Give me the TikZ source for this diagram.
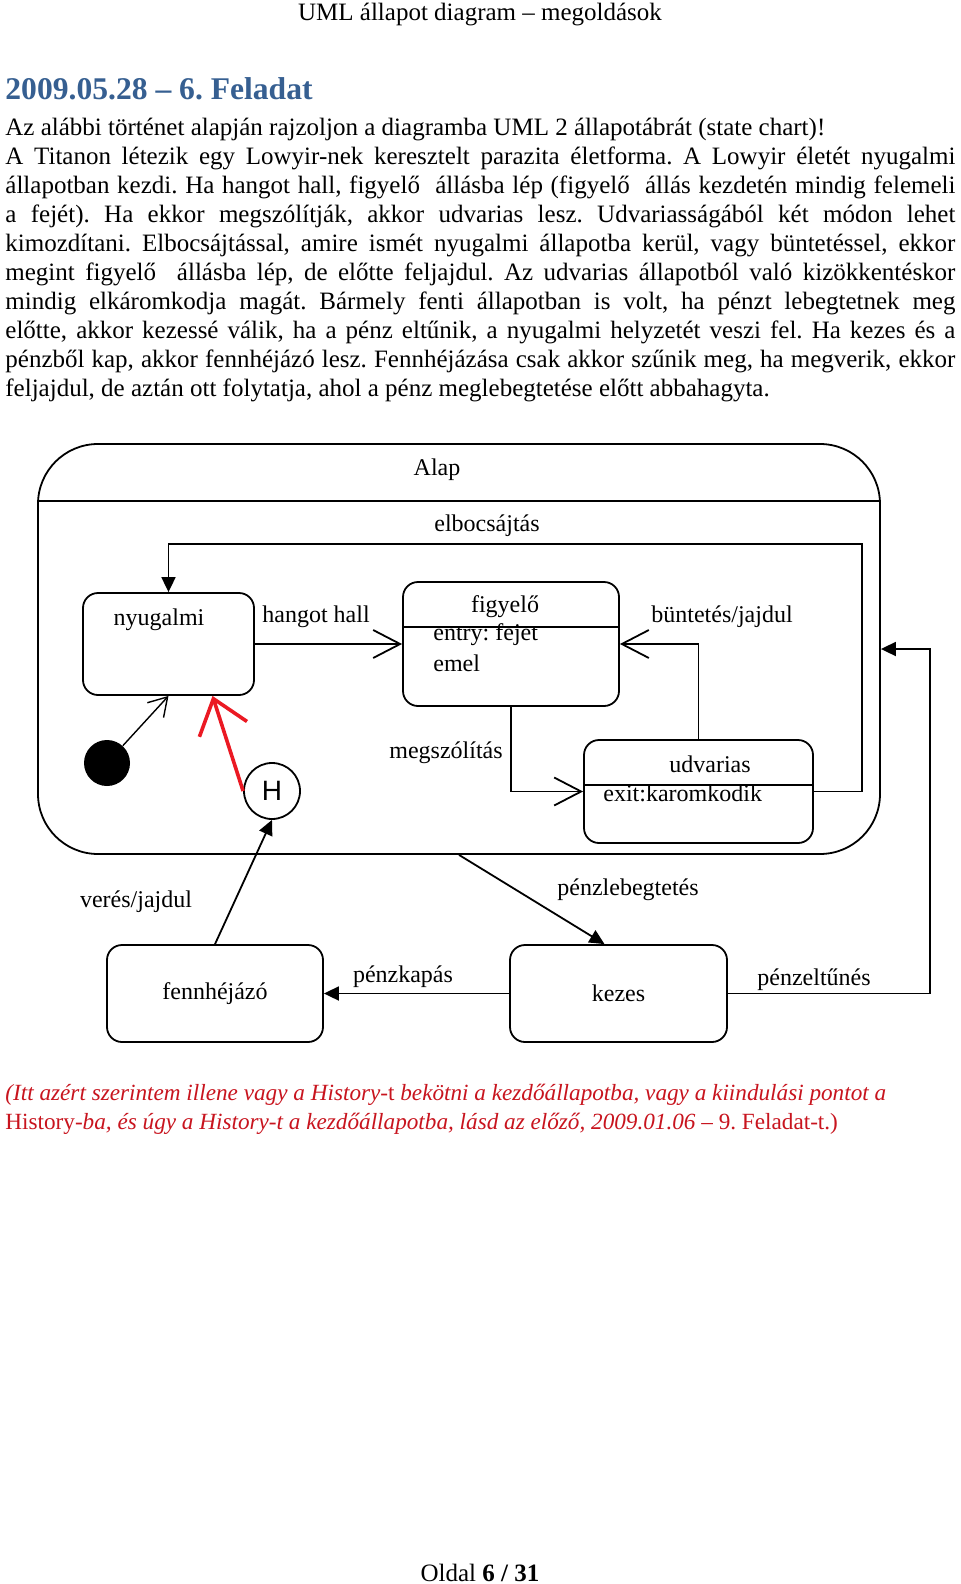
\documentclass[tikz,border=0pt]{standalone}
\usepackage{fontspec}
\setmainfont{Liberation Serif}
\newfontfamily\sansH{Liberation Sans}
\usepackage{xcolor}
\usepackage{tikz}
\usetikzlibrary{arrows.meta}
\usetikzlibrary{calc}
\definecolor{fejkek}{RGB}{54,95,145}
\definecolor{megjpiros}{RGB}{200,20,30}
\definecolor{kezipiros}{RGB}{235,25,35}
\newcommand{\mainsize}{\fontsize{12.5pt}{14.5pt}\selectfont}
\newcommand{\notesize}{\fontsize{11.6pt}{14.5pt}\selectfont}
\newcommand{\headsize}{\fontsize{15.8pt}{18pt}\selectfont\bfseries}
\tikzstyle{state} = [draw, rounded corners=7.5pt, line width=0.9pt, inner sep=0pt]
\tikzstyle{cimke} = [inner sep=0pt, font=\fontsize{12pt}{14pt}\selectfont]
\tikzstyle{arrow} = [-{Triangle[length=7.5pt, width=7pt]}, line width=0.9pt]
\tikzstyle{openarrow} = [-{Straight Barb[length=13.5pt, width=14pt]}, line width=0.9pt]
\tikzstyle{smallopen} = [-{Straight Barb[length=9pt, width=11pt]}, line width=0.7pt]
\tikzstyle{redarrow} = [-{Straight Barb[length=16pt, width=25pt]}, line width=1.8pt, draw=kezipiros]
\newcommand{\sepline}[2]{\draw[line width=0.9pt] (#1.west |- #2) -- (#1.east |- #2)}
\frenchspacing

\begin{document}
\begin{tikzpicture}[x=0.5pt, y=-0.5pt]
	\fill[white] (0,0) rectangle (960,1584);
	\useasboundingbox (0,0) rectangle (960,1584);
	
	% oldal szovege
	\node[anchor=base, font=\mainsize] (fejlec) at (480,21) {UML állapot diagram – megoldások};
	\node[anchor=base west, font=\headsize, text=fejkek, inner sep=0pt] (cim) at (5,99) {2009.05.28 – 6. Feladat};
	\node[anchor=north west, text width=475pt, align=justify, inner sep=0pt, font=\mainsize] (feladat) at (5,118) {%
		Az alábbi történet alapján rajzoljon a diagramba UML 2 állapotábrát (state chart)!\\
		A Titanon létezik egy Lowyir-nek keresztelt parazita életforma. A Lowyir életét nyugalmi\linebreak
		állapotban kezdi. Ha hangot hall, figyelő~ állásba lép (figyelő~ állás kezdetén mindig felemeli\linebreak
		a fejét). Ha ekkor megszólítják, akkor udvarias lesz. Udvariasságából két módon lehet\linebreak
		kimozdítani. Elbocsájtással, amire ismét nyugalmi állapotba kerül, vagy büntetéssel, ekkor\linebreak
		megint figyelő~ állásba lép, de előtte feljajdul. Az udvarias állapotból való kizökkentéskor\linebreak
		mindig elkáromkodja magát. Bármely fenti állapotban is volt, ha pénzt lebegtetnek meg\linebreak
		előtte, akkor kezessé válik, ha a pénz eltűnik, a nyugalmi helyzetét veszi fel. Ha kezes és a\linebreak
		pénzből kap, akkor fennhéjázó lesz. Fennhéjázása csak akkor szűnik meg, ha megverik, ekkor\linebreak
		feljajdul, de aztán ott folytatja, ahol a pénz meglebegtetése előtt abbahagyta.};
	
	% allapotok
	\node[state, minimum width=421pt, minimum height=205pt, rounded corners=30pt] (alap) at (459,649) {};
	\node[cimke] (alapnev) at (437,470) {Alap};
	\sepline{alap}{0,501};
	
	\node[state, minimum width=85.5pt, minimum height=51pt] (nyug) at (168.5,644) {};
	\node[cimke] (nyugnev) at (159,620) {nyugalmi};
	
	\node[state, minimum width=108pt, minimum height=62pt] (figy) at (511,644) {};
	\node[cimke] (figynev) at (505,607) {figyelő};
	\sepline{figy}{0,627};
	\node[cimke, anchor=west] (figyentry) at (433,635) {entry: fejet};
	\node[cimke, anchor=west] (figyemel) at (433,663) {emel};
	
	\node[state, minimum width=114.5pt, minimum height=51.5pt] (udv) at (698.5,791.5) {};
	\node[cimke] (udvnev) at (710,764) {udvarias};
	\sepline{udv}{0,785};
	\node[cimke, anchor=west] (udvexit) at (603,793) {exit:karomkodik};
	
	\node[state, minimum width=108pt, minimum height=48.5pt, font=\fontsize{12pt}{14pt}\selectfont] (fenn) at (215,993.5) {fennhéjázó};
	\node[state, minimum width=108.5pt, minimum height=48.5pt, font=\fontsize{12pt}{14pt}\selectfont] (kezes) at (618.5,993.5) {kezes};
	
	\node[circle, fill=black, minimum size=23pt, inner sep=0pt] (kezdo) at (107,763) {};
	\node[circle, draw, line width=0.9pt, minimum size=28pt, inner sep=0pt, font=\sansH\fontsize{14pt}{14pt}\selectfont] (hist) at (272,791) {H};
	
	% atmenetek
	\draw[smallopen] (kezdo) -- (nyug.south);
	
	\draw[openarrow] (nyug.east) -- (figy.west);
	\node[cimke] (hanglbl) at (316,617) {hangot hall};
	
	\coordinate (elbfent) at (862,544);
	\draw[arrow] (udv.east) -| (elbfent) -| (nyug.north);
	\node[cimke] (elblbl) at (487,526) {elbocsájtás};
	
	\draw[openarrow] (udv.north) |- (figy.east);
	\node[cimke] (buntlbl) at (722,617) {büntetés/jajdul};
	
	\draw[openarrow] (figy.south) |- (udv.west);
	\node[cimke] (megszlbl) at (446,753) {megszólítás};
	
	\draw[redarrow] (hist.west) -- ([xshift=22pt]nyug.south);
	
	\draw[arrow] (fenn.north) -- (hist.south);
	\node[cimke] (vereslbl) at (136,902) {verés/jajdul};
	
	\draw[arrow] (kezes.west) -- (fenn.east);
	\node[cimke] (kaplbl) at (403,977) {pénzkapás};
	
	\draw[arrow] (alap.south) -- ([xshift=-7pt]kezes.north);
	\node[cimke] (leblbl) at (628,890) {pénzlebegtetés};
	
	\coordinate (jobbsarok) at (930,649);
	\draw[arrow] (kezes.east) -| (jobbsarok) -- (alap.east);
	\node[cimke] (eltlbl) at (814,980) {pénzeltűnés};
	
	% megjegyzes
	\node[anchor=base west, align=left, inner sep=0pt, font=\notesize, text=megjpiros] (megj) at (5,1129) {%
		{\itshape (Itt azért szerintem illene vagy a History-}t {\itshape bekötni a kezdőállapotba, vagy a kiindulási pontot a}\\
		History-{\itshape ba, és úgy a History-t a kezdőállapotba, lásd az előző, 2009.01.06 – }9. Feladat-t.)};
	
	\node[anchor=base, font=\mainsize] (lablec) at (480,1581) {Oldal \textbf{6 / 31}};
\end{tikzpicture}
\end{document}
